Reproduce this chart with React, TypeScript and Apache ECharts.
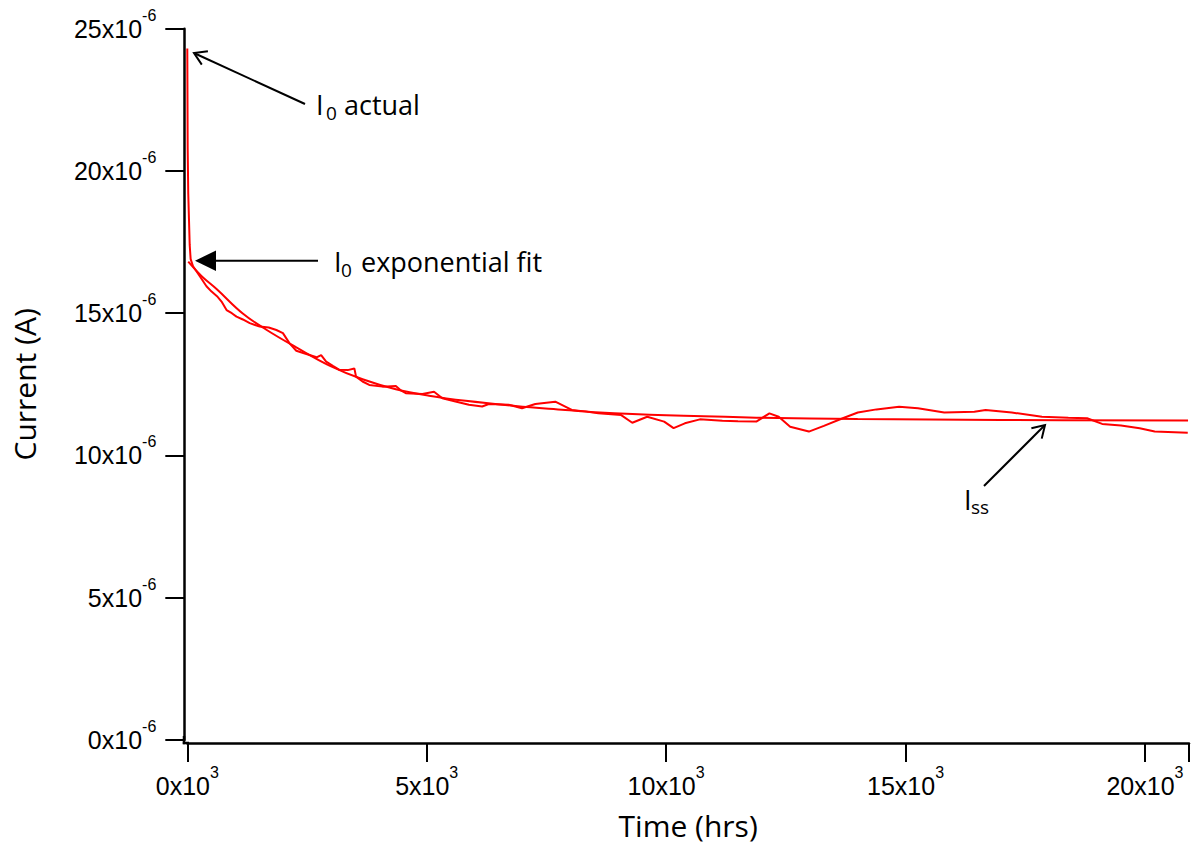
import React, { useEffect, useRef } from "react";
import * as echarts from "echarts";

// Measured current (in units of 1e-6 A) versus time (hrs)
const dataTime = [
  0, 8, 20, 35, 50, 70, 120, 268, 400, 507, 620, 715, 820, 930, 1027, 1160, 1304, 1512, 1700, 1860,
  1997, 2136, 2276, 2420, 2553, 2700, 2795, 2900, 3040, 3177, 3350, 3489, 3524, 3660, 3800, 4077,
  4355, 4450, 4563, 4910, 5153, 5326, 5600, 5881, 6158, 6297, 6713, 6990, 7268, 7685, 8030, 8300,
  8584, 9062, 9293, 9605, 9959, 10156, 10391, 10705, 11175, 11500, 11883, 12157, 12351, 12590,
  12981, 13295, 13689, 14003, 14394, 14866, 15259, 15808, 16437, 16672, 17219, 17849, 18400,
  18792, 19106, 19500, 19890, 20204, 20894,
];
const dataCurrent = [
  24.3, 20.8, 19.2, 18.3, 17.4, 16.9, 16.65, 16.28, 15.95, 15.76, 15.6, 15.41, 15.11, 15.0, 14.88,
  14.78, 14.65, 14.53, 14.5, 14.41, 14.3, 13.94, 13.68, 13.6, 13.53, 13.45, 13.53, 13.3, 13.15,
  13.01, 13.0, 13.06, 12.77, 12.6, 12.48, 12.42, 12.44, 12.3, 12.19, 12.16, 12.24, 12.01, 11.9,
  11.78, 11.72, 11.81, 11.78, 11.66, 11.81, 11.89, 11.6, 11.55, 11.48, 11.42, 11.15, 11.36, 11.19,
  10.96, 11.13, 11.27, 11.22, 11.2, 11.19, 11.48, 11.36, 11.01, 10.84, 11.04, 11.31, 11.51, 11.62,
  11.71, 11.66, 11.51, 11.54, 11.6, 11.51, 11.36, 11.33, 11.31, 11.11, 11.05, 10.96, 10.84, 10.8,
];

// Exponential fit (units of 1e-6 A)
const fitTime = [20, 300, 611, 1165, 1651, 2276, 2969, 3661, 4355, 5049, 5812, 6853, 7893, 8517, 10000, 12000, 14000, 17000, 20900];
const fitCurrent = [16.81, 16.3, 15.85, 14.98, 14.42, 13.8, 13.16, 12.68, 12.33, 12.1, 11.92, 11.74, 11.6, 11.52, 11.41, 11.33, 11.28, 11.25, 11.23];

// Axis ticks
const xTicks = [0, 5000, 10000, 15000, 20000];
const yTicks = [0, 5, 10, 15, 20, 25];

const LABEL_FONT = "'Liberation Sans', Arial, sans-serif";
const NOTE_FONT = "'Open Sans', 'Noto Sans', sans-serif";

function arrowHead(tip: number[], from: number[], len: number, ang: number) {
  const a = Math.atan2(from[1] - tip[1], from[0] - tip[0]);
  return [
    [tip[0] + len * Math.cos(a + ang), tip[1] + len * Math.sin(a + ang)],
    [tip[0], tip[1]],
    [tip[0] + len * Math.cos(a - ang), tip[1] + len * Math.sin(a - ang)],
  ];
}

function txt(text: string, x: number, y: number, size: number) {
  return {
    type: "text",
    silent: true,
    style: {
      text,
      x,
      y,
      fill: "#000",
      fontFamily: NOTE_FONT,
      fontSize: size,
      align: "left",
      verticalAlign: "middle",
    },
  };
}

const rich = {
  m: { fontFamily: LABEL_FONT, fontSize: 25, color: "#000", lineHeight: 25, verticalAlign: "bottom" },
  s: { fontFamily: LABEL_FONT, fontSize: 16, color: "#000", lineHeight: 16, padding: [0, 0, 18, 0], verticalAlign: "bottom" },
};

export default function App() {
  const ref = useRef<HTMLDivElement>(null);
  useEffect(() => {
    if (!ref.current) return;
    const chart = echarts.init(ref.current, null, { renderer: "svg" });
    const dataPairs = dataTime.map((t, i) => [t, dataCurrent[i]]);
    const fitPairs = fitTime.map((t, i) => [t, fitCurrent[i]]);

    const a1Tip = [194, 53];
    const a1From = [305, 104];
    const a3Tip = [1045, 425];
    const a3From = [984, 486];

    chart.setOption({
      animation: false,
      backgroundColor: "#fff",
      grid: { left: 187.3, right: -1, top: 28.7, bottom: 105, containLabel: false },
      xAxis: {
        type: "value",
        min: 0,
        max: 20920,
        interval: 5000,
        offset: 3,
        axisLine: { show: true, onZero: false, lineStyle: { color: "#000", width: 2.5 } },
        axisTick: { show: true, length: 19, lineStyle: { color: "#000", width: 2 } },
        axisLabel: {
          margin: 30,
          formatter: (v: number) => (xTicks.includes(v) ? `{m|${v / 1000}x10}{s|3}` : ""),
          rich,
        },
        splitLine: { show: false },
        name: "Time (hrs)",
        nameLocation: "middle",
        nameGap: 82,
        nameTextStyle: { fontFamily: NOTE_FONT, fontSize: 30, color: "#000", verticalAlign: "middle" },
      },
      yAxis: {
        type: "value",
        min: 0,
        max: 25,
        interval: 5,
        offset: 3,
        axisLine: { show: true, onZero: false, lineStyle: { color: "#000", width: 2.5 } },
        axisTick: { show: true, length: 19, lineStyle: { color: "#000", width: 2 } },
        axisLabel: {
          margin: 28,
          formatter: (v: number) => (yTicks.includes(v) ? `{m|${v}x10}{s|-6}` : ""),
          rich,
        },
        splitLine: { show: false },
        name: "Current (A)",
        nameLocation: "middle",
        nameGap: 160,
        nameTextStyle: { fontFamily: NOTE_FONT, fontSize: 30, color: "#000", verticalAlign: "middle" },
      },
      series: [
        {
          name: "Measured",
          type: "line",
          data: dataPairs,
          symbol: "none",
          lineStyle: { color: "#ff0000", width: 2 },
          z: 3,
        },
        {
          name: "Exponential fit",
          type: "line",
          data: fitPairs,
          smooth: 0.4,
          symbol: "none",
          lineStyle: { color: "#ff0000", width: 2 },
          z: 2,
        },
      ],
      graphic: {
        elements: [
          // axis corner
          { type: "line", silent: true, shape: { x1: 182.8, y1: 743, x2: 189, y2: 743 }, style: { stroke: "#000", lineWidth: 2.5 } },
          { type: "line", silent: true, shape: { x1: 184, y1: 736, x2: 184, y2: 744.2 }, style: { stroke: "#000", lineWidth: 2.5 } },
          // I0 actual arrow
          { type: "line", silent: true, shape: { x1: a1From[0], y1: a1From[1], x2: a1Tip[0] + 1, y2: a1Tip[1] + 0.5 }, style: { stroke: "#000", lineWidth: 2 } },
          { type: "polyline", silent: true, shape: { points: arrowHead(a1Tip, a1From, 14, 0.55) }, style: { stroke: "#000", lineWidth: 2, fill: null } },
          // I0 exponential fit arrow
          { type: "line", silent: true, shape: { x1: 318, y1: 260.7, x2: 212, y2: 260.7 }, style: { stroke: "#000", lineWidth: 2 } },
          { type: "polygon", silent: true, shape: { points: [[195, 260.7], [216, 250.5], [216, 270.9]] }, style: { fill: "#000" } },
          // Iss arrow
          { type: "line", silent: true, shape: { x1: a3From[0], y1: a3From[1], x2: a3Tip[0] - 0.5, y2: a3Tip[1] + 0.5 }, style: { stroke: "#000", lineWidth: 2 } },
          { type: "polyline", silent: true, shape: { points: arrowHead(a3Tip, a3From, 14, 0.55) }, style: { stroke: "#000", lineWidth: 2, fill: null } },
          // labels
          txt("I", 316, 104.5, 27),
          txt("0", 326, 112.6, 19),
          txt("actual", 344, 104.5, 27),
          txt("I", 334, 261.5, 27),
          txt("0", 341, 269.6, 19),
          txt("exponential fit", 361, 261.5, 27),
          txt("I", 964, 499.5, 27),
          txt("ss", 971, 506.6, 19),
        ],
      },
    });
    return () => chart.dispose();
  }, []);
  return (
    <div
      ref={ref}
      style={{ position: "fixed", left: 0, top: 0, width: 1192, height: 845, background: "#fff" }}
    />
  );
}
